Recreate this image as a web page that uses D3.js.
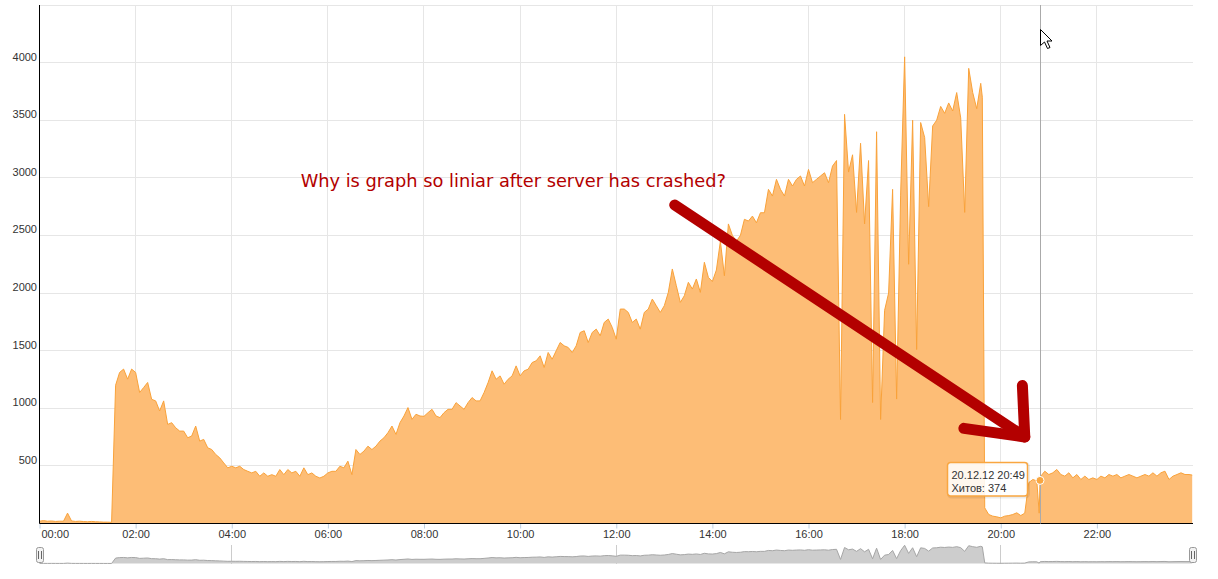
<!DOCTYPE html>
<html>
<head>
<meta charset="utf-8">
<script src="https://cdn.jsdelivr.net/npm/d3@7"></script>
<style>
body { margin: 0; background: #fff; }
svg { display: block; font-family: "Liberation Sans", Arial, sans-serif; }
</style>
</head>
<body>
<script>
// хиты каждые 5 минут, 20.12.12 с 00:00
var hits = [
    20, 25, 20, 22, 18, 20, 20, 90, 22, 18, 20, 17, 15, 18, 15, 14, 12, 12, 10,
    1200, 1311, 1340, 1253, 1340, 1311, 1137, 1180, 1224, 1078, 1064, 977, 1064, 860, 875, 831,
    802, 802, 744, 759, 846, 715, 730, 657, 642, 599, 570, 526, 483,
    497, 483, 497, 468, 453, 439, 453, 410, 439, 410, 424, 410, 468, 424, 468, 439, 453, 410,
    483, 424, 439, 410, 395, 410, 439, 453, 453, 497, 483, 541, 424, 642, 599, 628, 671, 642,
    671, 715, 744, 788, 846, 773, 875, 933, 1006, 904, 948, 933,
    930, 962, 991, 933, 919, 962, 991, 991, 1049, 1020, 991, 1049, 1093, 1064, 1064, 1136,
    1223, 1325, 1252, 1281, 1209, 1252, 1281, 1368, 1281, 1325, 1339, 1397, 1412, 1455, 1354, 1484,
    1426, 1499, 1571, 1542, 1528, 1484, 1542, 1658, 1673, 1571, 1658, 1687, 1629, 1745, 1774, 1702,
    1600, 1861, 1861, 1832, 1745, 1774, 1687, 1832, 1861, 1948, 1890, 1832,
    1890, 2006, 2209, 2064, 1919, 1977, 2093, 2035, 2122, 2006, 2267, 2136,
    2100, 2200, 2450, 2150, 2600, 2500, 2450, 2500, 2640, 2625, 2668, 2610,
    2697, 2697, 2900, 2842, 2987, 2900, 2842, 2987, 2929, 2987, 3016, 2929,
    3073, 2958, 2987, 3016, 3044, 2958, 3102,
    3150, 903, 3551, 3050, 3200, 2700, 3300, 2600, 3150, 1050, 3400, 903, 1850, 2000, 2900, 1080,
    2850, 4050, 2250, 3500, 1510, 3480, 3350, 2750, 3450, 3500, 3620, 3560, 3650, 3580, 3740, 3520,
    2700, 3950, 3740, 3600, 3820,
    136, 78, 64, 58, 49, 64, 69, 78, 93, 69, 90, 355, 382, 370,
    411, 454, 425, 440, 469, 425, 411, 440, 396, 425, 382, 411, 382, 396, 382, 411, 396, 425,
    411, 425, 396, 411, 425, 411, 396, 411, 425, 411, 440, 411, 440, 454, 382, 411, 425, 440,
    425, 425
];
var stepMinutes = 5;

// отдельные точки вне сетки
var extraTimes = ["19:37", "20:48", "20:49", "23:59"];
var extraHits = [3700, 90, 374, 420];

var yTicks = [500, 1000, 1500, 2000, 2500, 3000, 3500, 4000];
var navGridTimes = ["04:00", "12:00", "20:00"];

var hoverTime = "20:49";
var hoverHits = 374;
var hoverDate = "20.12.12 20:49";
var seriesName = "Хитов";

var note = "Why is graph so liniar after server has crashed?";
// стрелка в координатах графика [время, хиты]
var arrowShaft = [["13:13", 2764], ["20:30", 751]];
var arrowHead = [["20:27", 1198], ["20:30", 751], ["19:14", 826]];
var notePos = ["05:26", 2923];

var width = 1218;
var height = 579;
var plot = { left: 39.5, right: 1193, top: 5, bottom: 523.5 };

var svg = d3.select("body").append("svg")
    .attr("width", width)
    .attr("height", height);

var day = Date.UTC(2012, 11, 20);
function at(hm) {
    var p = hm.split(":");
    return new Date(day + (+p[0] * 60 + +p[1]) * 60000);
}

var points = hits.map(function(v, i) {
    return { t: new Date(day + i * stepMinutes * 60000), v: v };
});
extraTimes.forEach(function(s, i) {
    points.push({ t: at(s), v: extraHits[i] });
});
points.sort(function(a, b) { return a.t - b.t; });

var x = d3.scaleUtc()
    .domain([new Date(day), new Date(day + 864e5)])
    .range([plot.left, plot.right]);
var y = d3.scaleLinear().domain([0, 4500]).range([plot.bottom, plot.top]);
var yNav = d3.scaleLinear().domain([0, 4000]).range([563.5, 545.5]);

function crisp(v) { return Math.round(v - 0.5) + 0.5; }

// сетка
var hourTicks = x.ticks(d3.utcHour.every(2)).filter(function(d) { return d < x.domain()[1]; });

svg.append("g").selectAll("line")
    .data(y.ticks(9).filter(function(d) { return d > 0; }))
    .enter().append("line")
    .attr("x1", plot.left).attr("x2", plot.right)
    .attr("y1", function(d) { return crisp(y(d)); })
    .attr("y2", function(d) { return crisp(y(d)); })
    .attr("stroke", "#e6e6e6");

svg.append("g").selectAll("line")
    .data(hourTicks.slice(1))
    .enter().append("line")
    .attr("x1", function(d) { return crisp(x(d)); })
    .attr("x2", function(d) { return crisp(x(d)); })
    .attr("y1", plot.top).attr("y2", plot.bottom)
    .attr("stroke", "#e6e6e6");

// серия
var area = d3.area()
    .x(function(d) { return x(d.t); })
    .y0(plot.bottom)
    .y1(function(d) { return y(d.v); });
var line = d3.line()
    .x(function(d) { return x(d.t); })
    .y(function(d) { return y(d.v); });

svg.append("path").datum(points)
    .attr("d", area)
    .attr("fill", "#fdbd76");
svg.append("path").datum(points)
    .attr("d", line)
    .attr("fill", "none")
    .attr("stroke", "#f9a23a")
    .attr("stroke-width", 1);

// оси
var xAxis = d3.axisBottom(x)
    .tickValues(hourTicks)
    .tickFormat(d3.utcFormat("%H:%M"))
    .tickSize(5)
    .tickPadding(2);

var gx = svg.append("g")
    .attr("transform", "translate(0," + plot.bottom + ")")
    .call(xAxis);
gx.select(".domain").remove();
gx.selectAll(".tick line").attr("stroke", "#c0d0e0");
gx.selectAll(".tick text")
    .attr("fill", "#333")
    .style("font-size", "11px")
    .style("font-family", "'Liberation Sans', Arial, sans-serif");
gx.select(".tick text").attr("text-anchor", "start").attr("dx", 1.5);

svg.append("line")
    .attr("x1", plot.left).attr("x2", plot.right)
    .attr("y1", plot.bottom).attr("y2", plot.bottom)
    .attr("stroke", "#000");
svg.append("line")
    .attr("x1", plot.left).attr("x2", plot.left)
    .attr("y1", plot.top).attr("y2", plot.bottom)
    .attr("stroke", "#000");

svg.append("g").selectAll("text")
    .data(yTicks)
    .enter().append("text")
    .attr("x", 37)
    .attr("y", function(d) { return y(d) - 2; })
    .attr("text-anchor", "end")
    .attr("fill", "#333")
    .style("font-size", "11px")
    .text(function(d) { return d; });

// навигатор
svg.append("g").selectAll("line")
    .data(navGridTimes)
    .enter().append("line")
    .attr("x1", function(d) { return crisp(x(at(d))); })
    .attr("x2", function(d) { return crisp(x(at(d))); })
    .attr("y1", 545).attr("y2", 564)
    .attr("stroke", "#cccccc");

var navArea = d3.area()
    .x(function(d) { return x(d.t); })
    .y0(yNav(0))
    .y1(function(d) { return yNav(d.v); });
var navLine = d3.line()
    .x(function(d) { return x(d.t); })
    .y(function(d) { return yNav(d.v); });
svg.append("path").datum(points).attr("d", navArea).attr("fill", "#cdcdcd");
svg.append("path").datum(points).attr("d", navLine)
    .attr("fill", "none").attr("stroke", "#a6a6a6").attr("stroke-width", 1);

[plot.left, plot.right].forEach(function(cx) {
    var h = svg.append("g").attr("transform", "translate(" + Math.round(cx) + ",547)");
    h.append("rect")
        .attr("x", -3.5).attr("y", 0.5)
        .attr("width", 7).attr("height", 15)
        .attr("rx", 2)
        .attr("fill", "#f2f2f2").attr("stroke", "#999");
    [-1.5, 1.5].forEach(function(dx) {
        h.append("line")
            .attr("x1", dx).attr("x2", dx)
            .attr("y1", 4).attr("y2", 12)
            .attr("stroke", "#666");
    });
});

// перекрестие, точка и подсказка
var hx = x(at(hoverTime));
var hy = y(hoverHits);

svg.append("line")
    .attr("x1", crisp(hx)).attr("x2", crisp(hx))
    .attr("y1", plot.top).attr("y2", plot.bottom)
    .attr("stroke", "#aaaaaa");

svg.append("circle")
    .attr("cx", hx).attr("cy", hy).attr("r", 4)
    .attr("fill", "#f9a640")
    .attr("stroke", "#fff").attr("stroke-width", 1);

var tip = svg.append("g")
    .attr("transform", "translate(" + (Math.round(hx) - 93) + "," + (Math.round(hy) - 18) + ")");
tip.append("rect")
    .attr("x", 1.5).attr("y", 1.5)
    .attr("width", 80).attr("height", 33.5)
    .attr("rx", 3)
    .attr("fill", "none")
    .attr("stroke", "rgba(0,0,0,0.08)")
    .attr("stroke-width", 3);
tip.append("rect")
    .attr("x", 0.5).attr("y", 0.5)
    .attr("width", 80).attr("height", 33.5)
    .attr("rx", 3)
    .attr("fill", "rgba(255,255,255,0.88)")
    .attr("stroke", "#f9a640")
    .attr("stroke-width", 1.5);
tip.append("text")
    .attr("x", 4.5).attr("y", 16.5)
    .attr("fill", "#333")
    .style("font-size", "11px")
    .text(hoverDate);
tip.append("text")
    .attr("x", 4.5).attr("y", 30)
    .attr("fill", "#333")
    .style("font-size", "11px")
    .text(seriesName + ": " + hoverHits);

// надпись и стрелка
var red = "#b30000";
svg.append("text")
    .attr("x", x(at(notePos[0])))
    .attr("y", y(notePos[1]))
    .attr("fill", red)
    .style("font-family", "'DejaVu Sans', sans-serif")
    .style("font-size", "17.8px")
    .text(note);

var arrowLine = d3.line()
    .x(function(d) { return x(at(d[0])); })
    .y(function(d) { return y(d[1]); });
[arrowShaft, arrowHead].forEach(function(pts) {
    svg.append("path")
        .attr("d", arrowLine(pts))
        .attr("fill", "none")
        .attr("stroke", red)
        .attr("stroke-width", 11)
        .attr("stroke-linecap", "round")
        .attr("stroke-linejoin", "round");
});

// курсор мыши
var cur = [[0, 0], [0, 16], [4, 12.5], [7, 19], [9.5, 18], [6.5, 11.5], [11.5, 11.5]];
svg.append("path")
    .attr("transform", "translate(" + crisp(hx) + ",29.5)")
    .attr("d", "M" + cur.join("L") + "Z")
    .attr("fill", "#fff")
    .attr("stroke", "#000")
    .attr("stroke-width", 1);
</script>
</body>
</html>
